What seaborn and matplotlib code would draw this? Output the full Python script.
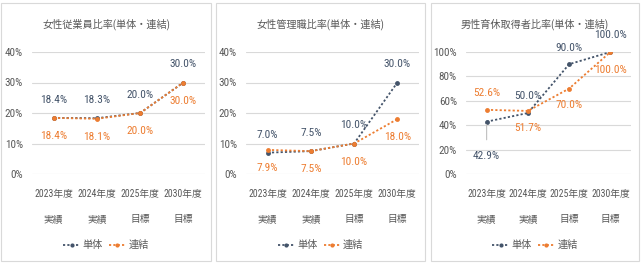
import matplotlib
matplotlib.use("Agg")
import matplotlib.pyplot as plt
import seaborn as sns
import pandas as pd
from matplotlib.patches import Rectangle
from matplotlib.lines import Line2D
from matplotlib import font_manager

sns.set_theme(style="white")
names = {f.name for f in font_manager.fontManager.ttflist}
cands = ["Roboto Condensed", "Liberation Sans Narrow", "Open Sans Condensed", "Noto Sans Condensed"]
narrow = [c for c in cands if c in names]
FAM = narrow[:1] + ['Noto Sans CJK JP', 'DejaVu Sans']
plt.rcParams['font.family'] = FAM
HAS_NARROW = bool(narrow)

categories = ["2023年度\n実績", "2024年度\n実績", "2025年度\n目標", "2030年度\n目標"]
series_names = ["単体", "連結"]
titles = ["女性従業員比率(単体・連結)", "女性管理職比率(単体・連結)", "男性育休取得者比率(単体・連結)"]

p1_tantai = [18.4, 18.3, 20.0, 30.0]
p1_renketsu = [18.4, 18.1, 20.0, 30.0]
p2_tantai = [7.0, 7.5, 10.0, 30.0]
p2_renketsu = [7.9, 7.5, 10.0, 18.0]
p3_tantai = [42.9, 50.0, 90.0, 100.0]
p3_renketsu = [52.6, 51.7, 70.0, 100.0]

p1_ticks = [0, 10, 20, 30, 40]
p2_ticks = [0, 10, 20, 30, 40]
p3_ticks = [0, 20, 40, 60, 80, 100]

C_T = "#44546A"
C_R = "#ED7D31"
GRID = "#D9D9D9"
TXT = "#595959"

# label offsets in points (style)
off1_t = [(0, 13)] * 4
off1_r = [(0, -13)] * 4
off2_t = [(0, 13), (0, 13), (0, 13), (0, 13)]
off2_r = [(0, -13), (0, -13), (0, -13), (0, -13)]
off3_t = [(0, -25), (0, 12), (0, 12), (0, 12)]
off3_r = [(0, 12), (0, -12), (0, -12), (0, -13)]

panels = [
    (p1_tantai, p1_renketsu, p1_ticks, off1_t, off1_r),
    (p2_tantai, p2_renketsu, p2_ticks, off2_t, off2_r),
    (p3_tantai, p3_renketsu, p3_ticks, off3_t, off3_r),
]

W, H = 642, 265
fig = plt.figure(figsize=(W / 100, H / 100), dpi=100)
fig.patch.set_facecolor("white")

ax_px = [(32, 205), (246, 419), (466, 631)]
panel_px = [(1, 211), (216, 425), (431, 639)]
top_px, bot_px = 52, 174

lab_fs = 8.2 if HAS_NARROW else 7.5
ytk_fs = 8.0 if HAS_NARROW else 7.2
xtk_fs = 7.0 if HAS_NARROW else 6.5

for i, (tv, rv, ticks, ot, orr) in enumerate(panels):
    px0, px1 = panel_px[i]
    fig.patches.append(Rectangle((px0 / W, 4 / H), (px1 - px0) / W, (262 - 4) / H,
                                 transform=fig.transFigure, fill=False,
                                 edgecolor="#D9D9D9", linewidth=0.8, zorder=0))
    x0, x1 = ax_px[i]
    ax = fig.add_axes([x0 / W, 1 - bot_px / H, (x1 - x0) / W, (bot_px - top_px) / H])
    ax.set_facecolor("none")
    df = pd.DataFrame({
        "x": list(range(len(categories))) * 2,
        "v": tv + rv,
        "s": [series_names[0]] * len(tv) + [series_names[1]] * len(rv),
    })
    for name, col in zip(series_names, [C_T, C_R]):
        sub = df[df["s"] == name]
        sns.lineplot(data=sub, x="x", y="v", ax=ax, color=col, linestyle=(0, (1.2, 1.2)),
                     linewidth=1.3, marker="o", markersize=3.5, markeredgewidth=0,
                     legend=False, zorder=3)
    for j, v in enumerate(tv):
        kw = {}
        if i == 2 and j == 0:
            kw = dict(arrowprops=dict(arrowstyle="-", color="#BFBFBF", lw=0.8,
                                      shrinkA=6, shrinkB=2))
        ax.annotate(f"{v:.1f}%", (j, v), xytext=ot[j], textcoords="offset points",
                    ha="center", va="center", color=C_T, fontsize=lab_fs, **kw)
    for j, v in enumerate(rv):
        ax.annotate(f"{v:.1f}%", (j, v), xytext=orr[j], textcoords="offset points",
                    ha="center", va="center", color=C_R, fontsize=lab_fs)
    ax.set_xlim(-0.5, len(categories) - 0.5)
    ax.set_ylim(ticks[0], ticks[-1])
    ax.set_yticks(ticks)
    ax.set_yticklabels([f"{t}%" for t in ticks])
    ax.set_xticks(range(len(categories)))
    ax.set_xticklabels(categories, linespacing=2.9)
    ax.grid(axis="y", color=GRID, linewidth=0.8)
    ax.set_axisbelow(True)
    for sp in ax.spines.values():
        sp.set_visible(False)
    ax.tick_params(axis="y", length=0, pad=6.5, labelsize=ytk_fs, labelcolor=TXT)
    ax.tick_params(axis="x", length=0, pad=11, labelsize=xtk_fs, labelcolor=TXT)
    ax.set_xlabel("")
    ax.set_ylabel("")
    cx = (px0 + px1) / 2 / W
    fig.text(cx, 1 - 24 / H, titles[i], ha="center", va="center", fontsize=7.3, color=TXT)
    handles = [Line2D([], [], color=c, linestyle=(0, (1.2, 1.2)), linewidth=1.3, marker="o",
                      markersize=3, markeredgewidth=0) for c in [C_T, C_R]]
    fig.legend(handles, series_names, loc="center", bbox_to_anchor=(cx, 1 - 245 / H),
               ncol=2, frameon=False, fontsize=7.3, handlelength=1.6, handletextpad=0.3,
               columnspacing=0.6, labelcolor=TXT)

fig.savefig("out.png", dpi=100, facecolor="white")
